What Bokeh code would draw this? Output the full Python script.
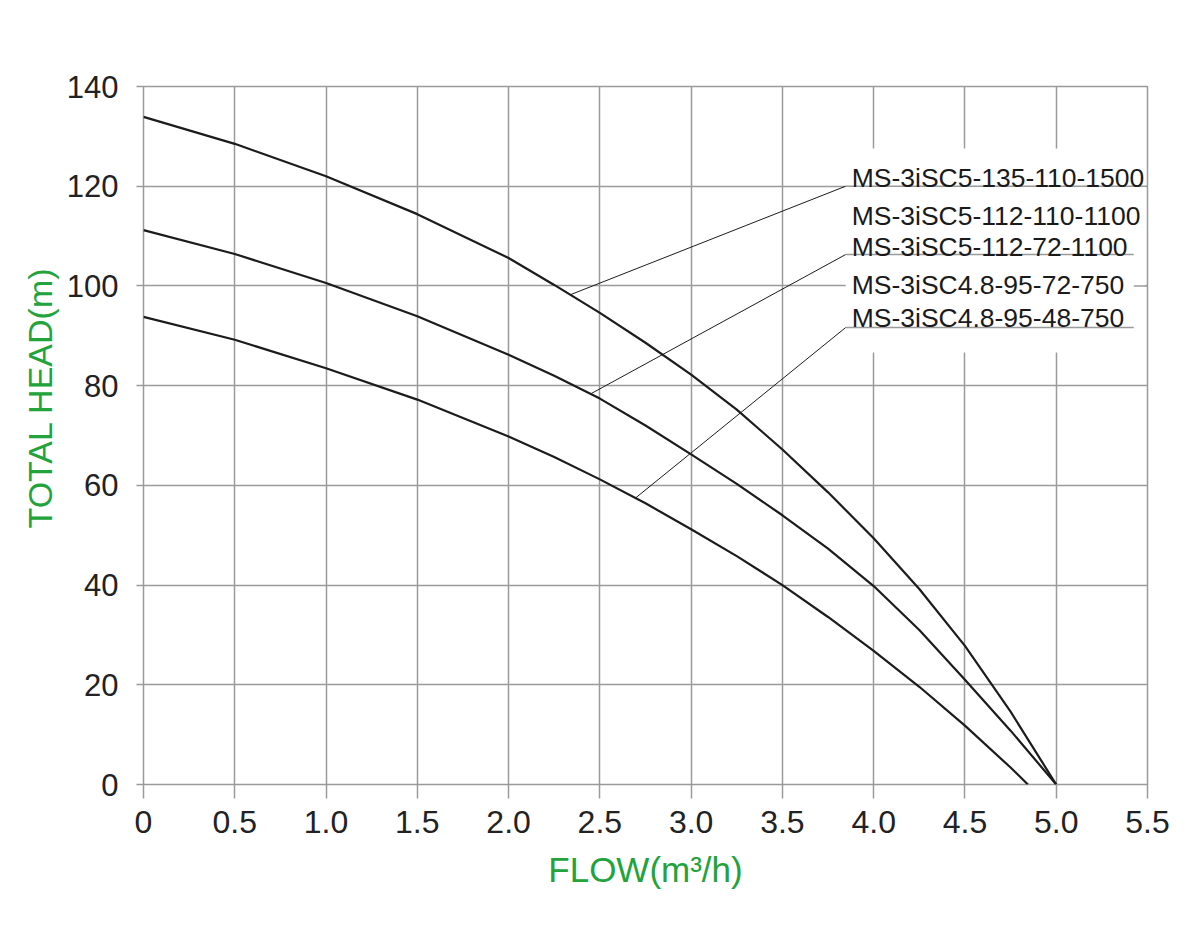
import numpy as np
from bokeh.plotting import figure
from bokeh.models import Range1d, FixedTicker, Label, Title
from bokeh.embed import file_html
from bokeh.resources import INLINE

# Pump performance curves: total head (m) against flow (m3/h)
flow_a = [0, 0.5, 1.0, 1.5, 2.0, 2.25, 2.5, 2.75, 3.0, 3.25, 3.5, 3.75, 4.0, 4.25, 4.5, 4.75, 5.0]
head_135 = [133.9, 128.5, 122.0, 114.4, 105.6, 100.2, 94.6, 88.6, 82.2, 75.2, 67.2, 58.6, 49.4,
            39.2, 27.8, 14.6, 0.0]

flow_b = [0, 0.5, 1.0, 1.5, 2.0, 2.25, 2.5, 2.75, 3.0, 3.25, 3.5, 3.75, 4.0, 4.25, 4.5, 4.75, 5.0]
head_112 = [111.2, 106.4, 100.6, 93.9, 86.2, 82.0, 77.4, 72.0, 66.2, 60.3, 54.0, 47.3, 39.8,
            31.0, 21.0, 10.8, 0.0]

flow_c = [0, 0.5, 1.0, 1.5, 2.0, 2.25, 2.5, 2.75, 3.0, 3.25, 3.5, 3.75, 4.0, 4.25, 4.5, 4.75, 4.845]
head_95 = [93.8, 89.2, 83.5, 77.2, 69.8, 65.7, 61.2, 56.4, 51.2, 45.8, 40.0, 33.6, 26.8,
           19.6, 11.8, 3.4, 0.0]

x_ticks = [0, 0.5, 1.0, 1.5, 2.0, 2.5, 3.0, 3.5, 4.0, 4.5, 5.0, 5.5]
x_tick_labels = ["0", "0.5", "1.0", "1.5", "2.0", "2.5", "3.0", "3.5", "4.0", "4.5", "5.0", "5.5"]
y_ticks = [0, 20, 40, 60, 80, 100, 120, 140]

model_names = [
    "MS-3iSC5-135-110-1500",
    "MS-3iSC5-112-110-1100",
    "MS-3iSC5-112-72-1100",
    "MS-3iSC4.8-95-72-750",
    "MS-3iSC4.8-95-48-750",
]

GRID = "#9a9a9a"
GREEN = "#22a33c"
INK = "#1c1c1c"
FONT = "Liberation Sans"

p = figure(width=1200, height=945, output_backend="svg", toolbar_location=None,
           x_range=Range1d(0, 5.5), y_range=Range1d(0, 140),
           min_border_left=143, min_border_right=53,
           min_border_top=86, min_border_bottom=161)
p.background_fill_color = "white"
p.border_fill_color = "white"
# frame drawn in the grid colour (edge gridlines)
p.outline_line_color = GRID
p.outline_line_width = 1.5

# grid every 0.5 m3/h and every 20 m
p.xaxis.ticker = FixedTicker(ticks=x_ticks)
p.yaxis.ticker = FixedTicker(ticks=y_ticks)
p.xaxis.major_label_overrides = {float(t): s for t, s in zip(x_ticks, x_tick_labels)}
for g in (p.xgrid, p.ygrid):
    g.grid_line_color = GRID
    g.grid_line_width = 1.5

for ax in (p.xaxis, p.yaxis):
    ax.axis_line_color = None
    ax.major_tick_line_color = GRID
    ax.major_tick_line_width = 1.5
    ax.major_tick_in = 0
    ax.minor_tick_line_color = None
    ax.major_label_text_font = FONT
    ax.major_label_text_color = "#222222"

p.xaxis.major_tick_out = 14
p.xaxis.major_label_text_font_size = "32px"
p.xaxis.major_label_standoff = 12
p.xaxis.axis_label = "FLOW(m³/h)"
p.xaxis.axis_label_text_font = FONT
p.xaxis.axis_label_text_font_style = "normal"
p.xaxis.axis_label_text_font_size = "35px"
p.xaxis.axis_label_text_color = GREEN
p.xaxis.axis_label_standoff = 14

p.yaxis.major_tick_out = 7
p.yaxis.major_label_text_font_size = "31px"
p.yaxis.major_label_standoff = 18

# y axis title, starting above the frame bottom
p.add_layout(Title(text="TOTAL HEAD(m)", align="left", offset=256,
                   text_font=FONT, text_font_size="34px", text_font_style="normal",
                   text_color=GREEN, standoff=9), "left")

# curves
for fx, hy in ((flow_a, head_135), (flow_b, head_112), (flow_c, head_95)):
    p.line(fx, hy, line_color=INK, line_width=2.2)

# white panel behind the model names
px = lambda v: (v - 143) / 182.5
py = lambda v: (784 - v) / 4.986
p.quad(left=px(845), right=px(1145), bottom=py(352), top=py(148),
       fill_color="white", line_color=None)

# gridline piece at 100 m on the right of the panel
p.line([px(1133), 5.5], [100, 100], line_color=GRID, line_width=1.5)

# leader lines from each curve to its name group
leaders = [
    (2.338, flow_a, head_135, 120.0, 5.5),
    (2.449, flow_b, head_112, py(254), px(1133)),
    (2.695, flow_c, head_95, py(327), px(1133)),
]
x_knee = px(845)
for q, fx, hy, y_end, x_end in leaders:
    h0 = float(np.interp(q, fx, hy))
    p.line([q, x_knee], [h0, y_end], line_color=INK, line_width=1.0)
    p.line([x_knee, x_end], [y_end, y_end], line_color=GRID, line_width=1.5)

name_baselines = [py(177), py(215), py(246), py(284), py(317)]
for name, yb in zip(model_names, name_baselines):
    p.add_layout(Label(x=px(851), y=yb, text=name, text_align="left",
                       text_baseline="alphabetic", text_font=FONT,
                       text_font_size="26.5px", text_color="#1a1a1a"))

open("out.html", "w").write(file_html(p, INLINE))
